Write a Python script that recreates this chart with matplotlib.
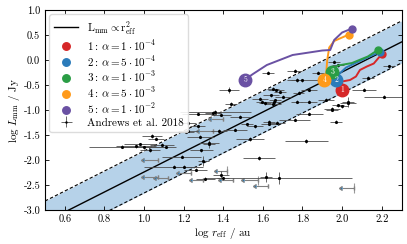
import matplotlib
matplotlib.use("Agg")
import matplotlib.pyplot as plt
import numpy as np

plt.rcParams["font.family"] = "serif"
plt.rcParams["font.serif"] = ["cmr10", "DejaVu Serif"]
plt.rcParams["mathtext.fontset"] = "cm"
plt.rcParams["axes.formatter.use_mathtext"] = True
plt.rcParams["font.size"] = 7

# ── Andrews et al. 2018: detections (log r_eff, log L_mm, xerr, yerr) ──────
obs_x = [0.89, 0.98, 1.00, 1.03, 1.04, 1.06, 1.09, 1.11, 1.21, 1.22,
         1.15, 1.19, 1.30, 1.33, 1.20, 1.26, 1.39, 1.31, 1.40, 1.615,
         1.68, 1.58, 1.82, 1.535, 1.46, 1.52, 1.56, 1.33, 1.285, 1.27,
         1.22, 1.38, 1.27, 1.35, 1.39, 1.485, 1.427, 1.44, 1.585, 1.595,
         1.61, 1.63, 1.627, 1.76, 1.877, 1.96, 1.98, 1.77, 1.80, 1.65,
         1.665, 1.64, 1.685, 1.70, 1.66, 1.65, 1.78, 1.835, 1.77, 1.92,
         2.03, 1.95, 2.00, 2.13, 2.11, 2.235, 2.21, 1.655, 1.835, 1.98,
         2.03, 1.95, 1.835, 1.76, 1.67, 1.63, 1.97, 1.36, 0.96, 1.29]
obs_y = [-1.73, -1.68, -1.74, -1.80, -1.52, -1.57, -1.69, -1.73, -1.43, -1.25,
         -2.13, -1.93, -2.01, -1.67, -2.13, -2.19, -2.30, -2.37, -2.36, -2.34,
         -2.35, -1.96, -1.61, -1.57, -1.39, -1.28, -1.32, -1.65, -1.53, -1.32,
         -1.41, -1.41, -1.07, -1.05, -1.09, -1.13, -0.60, -0.87, -0.77, -0.83,
         -0.86, -1.27, -0.25, -0.21, -0.25, -0.03, -0.10, -0.40, -0.40, -0.57,
         -0.60, -0.70, -0.63, -0.73, -0.80, -0.87, -0.65, -0.59, -0.83, -0.79,
         -0.83, -0.97, -0.92, -0.35, -0.59, -0.12, -0.73, -0.83, -0.83, -0.90,
         -0.85, -0.99, -1.07, -1.19, -1.25, -1.23, -1.23, -1.03, -1.72, -1.80]
obs_xerr = [0.17, 0.08, 0.12, 0.05, 0.05, 0.04, 0.06, 0.05, 0.04, 0.04,
            0.15, 0.10, 0.03, 0.03, 0.05, 0.06, 0.04, 0.05, 0.03, 0.03,
            0.37, 0.08, 0.11, 0.07, 0.06, 0.03, 0.04, 0.05, 0.07, 0.04,
            0.05, 0.04, 0.08, 0.04, 0.05, 0.05, 0.05, 0.03, 0.04, 0.03,
            0.03, 0.04, 0.03, 0.04, 0.03, 0.03, 0.03, 0.03, 0.08, 0.03,
            0.04, 0.04, 0.03, 0.04, 0.03, 0.04, 0.03, 0.04, 0.03, 0.04,
            0.03, 0.04, 0.03, 0.03, 0.06, 0.03, 0.10, 0.04, 0.04, 0.03,
            0.04, 0.03, 0.07, 0.08, 0.04, 0.03, 0.03, 0.18, 0.10, 0.06]
obs_yerr = [0.03, 0.03, 0.03, 0.03, 0.04, 0.03, 0.03, 0.03, 0.03, 0.04,
            0.03, 0.03, 0.10, 0.08, 0.03, 0.03, 0.08, 0.03, 0.03, 0.10,
            0.12, 0.04, 0.04, 0.04, 0.03, 0.03, 0.03, 0.03, 0.03, 0.03,
            0.03, 0.03, 0.03, 0.03, 0.03, 0.03, 0.06, 0.04, 0.03, 0.03,
            0.03, 0.03, 0.03, 0.03, 0.03, 0.03, 0.03, 0.04, 0.03, 0.03,
            0.03, 0.03, 0.03, 0.03, 0.03, 0.03, 0.03, 0.03, 0.03, 0.03,
            0.10, 0.03, 0.03, 0.03, 0.03, 0.03, 0.03, 0.03, 0.03, 0.03,
            0.03, 0.03, 0.03, 0.03, 0.03, 0.03, 0.03, 0.03, 0.03, 0.03]

# ── Andrews et al. 2018: upper limits on r_eff ─────────────────────────────
lim_x = [1.07, 1.07, 1.12, 1.235, 1.42, 1.45, 1.575, 1.625, 2.06, 1.40, 1.35, 1.30]
lim_y = [-2.00, -2.34, -2.36, -2.25, -2.21, -2.40, -2.40, -2.52, -2.55, -1.17, -1.42, -2.40]
lim_len = [0.07, 0.07, 0.06, 0.06, 0.05, 0.06, 0.07, 0.06, 0.06, 0.06, 0.07, 0.06]
lim_yerr = [0.04, 0.04, 0.04, 0.04, 0.09, 0.04, 0.09, 0.04, 0.10, 0.04, 0.04, 0.04]

# ── model tracks ───────────────────────────────────────────────────────────
labels = [r"$1:\,\alpha=1\cdot10^{-4}$", r"$2:\,\alpha=5\cdot10^{-4}$",
          r"$3:\,\alpha=1\cdot10^{-3}$", r"$4:\,\alpha=5\cdot10^{-3}$",
          r"$5:\,\alpha=1\cdot10^{-2}$"]
colors = ["#d62728", "#2b7bba", "#2a9d45", "#ff9a1a", "#6a51a3"]
track_x = [[2.20, 2.19, 2.16, 2.125, 2.09, 2.07, 2.04, 2.00, 2.00],
           [2.19, 2.10, 2.02, 1.985, 1.97],
           [2.18, 2.13, 2.05, 1.98, 1.96, 1.95],
           [2.035, 2.00, 1.96, 1.935, 1.925, 1.92, 1.91],
           [2.05, 2.00, 1.96, 1.94, 1.90, 1.75, 1.62, 1.55, 1.51]]
track_y = [[0.13, 0.07, -0.07, -0.13, -0.20, -0.33, -0.40, -0.43, -0.59],
           [0.16, 0.00, -0.15, -0.28, -0.40],
           [0.20, 0.07, -0.06, -0.11, -0.15, -0.23],
           [0.51, 0.45, 0.38, 0.25, 0.00, -0.25, -0.40],
           [0.63, 0.55, 0.40, 0.20, 0.19, 0.10, -0.10, -0.28, -0.39]]

# ── L_mm ∝ r_eff^2 relation ────────────────────────────────────────────────
rel_slope = 2.0
rel_icpt = -4.24
rel_width = 0.42

fig = plt.figure(figsize=(4.07, 2.44), dpi=100)
ax = fig.add_axes([0.1106, 0.1393, 0.8759, 0.8197])

xr = np.array([0.5, 2.3])
yr = rel_slope * xr + rel_icpt
ax.fill_between(xr, yr - rel_width, yr + rel_width, color="#b6d2e9", lw=0, zorder=0)
ax.plot(xr, yr + rel_width, "k--", lw=0.8, dashes=(3, 2), zorder=1)
ax.plot(xr, yr - rel_width, "k--", lw=0.8, dashes=(3, 2), zorder=1)
ax.plot(xr, yr, "k-", lw=1.0, zorder=1, label=r"$\mathrm{L_{mm}}\propto\mathrm{r_{eff}^2}$")

# upper limits: vertical bar + arrow pointing to smaller radii
ax.errorbar(lim_x, lim_y, yerr=lim_yerr, fmt="none",
            ecolor="0.6", elinewidth=0.8, capsize=0, zorder=2)
ax.errorbar(lim_x, lim_y, xerr=lim_len, xuplims=True, fmt="none",
            ecolor="0.5", elinewidth=0.8, capsize=1.5, zorder=2)

# Andrews et al. detections
ax.errorbar(obs_x, obs_y, xerr=obs_xerr, yerr=obs_yerr, fmt=".", ms=2.5,
            color="k", ecolor="0.3", elinewidth=0.6, capsize=0, zorder=3,
            label="Andrews et al. 2018")

for i in range(5):
    tx, ty = track_x[i], track_y[i]
    ax.plot(tx, ty, "-", color=colors[i], lw=1.4, zorder=4)
    ax.plot(tx[0], ty[0], "o", color=colors[i], ms=5, zorder=5)
    ax.plot(tx[-1], ty[-1], "o", color=colors[i], ms=9, zorder=5, label=labels[i])
    ax.text(tx[-1], ty[-1], str(i + 1), color="white", fontsize=5.5,
            ha="center", va="center", zorder=6)

ax.set_xlim(0.5, 2.3)
ax.set_ylim(-3.0, 1.0)
ax.set_xticks([0.6, 0.8, 1.0, 1.2, 1.4, 1.6, 1.8, 2.0, 2.2])
ax.set_yticks([-3.0, -2.5, -2.0, -1.5, -1.0, -0.5, 0.0, 0.5, 1.0])
ax.xaxis.set_major_formatter(matplotlib.ticker.FormatStrFormatter("%.1f"))
ax.yaxis.set_major_formatter(matplotlib.ticker.FormatStrFormatter("%.1f"))
ax.tick_params(direction="in", top=True, right=True, length=3, width=0.6, labelsize=7.5)
for s in ax.spines.values():
    s.set_linewidth(0.8)
ax.set_xlabel(r"$\log\,r_\mathrm{eff}$ / au", fontsize=8, labelpad=1)
ax.set_ylabel(r"$\log\,L_\mathrm{mm}$ / Jy", fontsize=8, labelpad=1)

ax.legend(loc="upper left", fontsize=8, handlelength=2.2, borderpad=0.4,
          labelspacing=0.12, markerscale=0.6, framealpha=0.9, edgecolor="0.85",
          borderaxespad=0.4)

fig.savefig("out.png", dpi=100)
